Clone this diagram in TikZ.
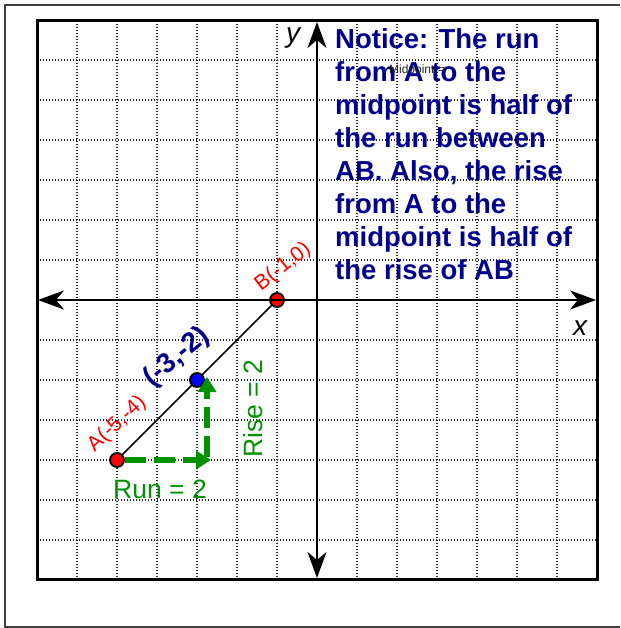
\documentclass[tikz,border=0pt]{standalone}
\usepackage{fontspec}
\setmainfont{Liberation Sans}
\usetikzlibrary{arrows.meta}
\definecolor{navytext}{RGB}{0,0,140}
\definecolor{runrise}{RGB}{0,145,0}
\pgfdeclarelayer{bg}
\pgfsetlayers{bg,main}
\tikzset{
  gridline/.style={black!85, line width=1.2pt, dash pattern=on 1.2pt off 1.8pt},
  axis/.style={black, line width=2.2pt, {Stealth[length=26pt,width=19pt,inset=8pt]}-{Stealth[length=26pt,width=19pt,inset=8pt]}},
  dot/.style={circle, draw=black, line width=1.8pt, minimum size=14pt, inner sep=0pt},
  ptlabel/.style={red, font=\fontsize{21}{24}\selectfont, inner sep=0pt},
  greenarrow/.style={runrise, line width=6.5pt, dash pattern=on 21pt off 8pt, -{Triangle[length=15pt,width=18pt]}},
  greenlabel/.style={runrise, font=\fontsize{26.5}{30}\selectfont, inner sep=0pt},
  notice/.style={navytext, font=\fontsize{27.5}{33}\selectfont\bfseries, align=left, inner sep=0pt, anchor=north west}
}
\begin{document}
\begin{tikzpicture}[x=1pt,y=-1pt]
\useasboundingbox (0,0) rectangle (620,628);
% outer frame
\draw[black!75, line width=2pt] (620,5) -- (5,5) -- (5,626.5) -- (620,626.5);
% named points
\node[dot, fill=red] (A) at (117,460) {};
\node[dot, fill=blue] (M) at (197,380) {};
\node[dot, fill=red] (B) at (277,300) {};
\begin{pgfonlayer}{bg}
  \foreach \i in {-6,...,-1,1,2,...,6} {
    \draw[gridline] (317+40*\i,21) -- (317+40*\i,579);
    \draw[gridline] (37,300+40*\i) -- (597,300+40*\i);
  }
  \draw[black, line width=1.6pt] (A) -- (B);
\end{pgfonlayer}
% grid box and axes
\draw[black, line width=3pt] (37,21) rectangle (597,579);
\coordinate (xl) at (38,300);
\coordinate (xr) at (596,300);
\coordinate (yt) at (317,22);
\coordinate (yb) at (317,578);
\draw[axis] (xl) -- (xr);
\draw[axis] (yt) -- (yb);
\node[font=\fontsize{28}{30}\selectfont\itshape, anchor=base, inner sep=0pt] (ylab) at (293,43) {y};
\node[font=\fontsize{28}{30}\selectfont\itshape, anchor=base, inner sep=0pt] (xlab) at (580,335) {x};
% labels of points
\node[ptlabel, rotate=38] (Blab) at (283,267) {B(-1,0)};
\node[ptlabel, rotate=43] (Alab) at (117,424) {A(-5,-4)};
\node[navytext, font=\fontsize{28}{30}\selectfont\bfseries, inner sep=0pt, rotate=40] (Mlab) at (177,357) {(-3,-2)};
% run and rise
\coordinate (runend) at (211,460);
\coordinate (risestart) at (207,457);
\coordinate (riseend) at (207,377);
\draw[greenarrow] (A) -- (runend);
\draw[greenarrow] (risestart) -- (riseend);
\node[greenlabel, anchor=base] (runlab) at (160,498) {Run = 2};
\node[greenlabel, anchor=base, rotate=90] (riselab) at (262,409) {Rise = 2};
% notice text
\node[notice] (note) at (335,28) {Notice: The run\\from A to the\\midpoint is half of\\the run between\\AB. Also, the rise\\from A to the\\midpoint is half of\\the rise of AB};
\node[black!85, font=\fontsize{12}{14}\selectfont, inner sep=0pt] (midtxt) at (417,70) {Midpoint =};
\end{tikzpicture}
\end{document}
